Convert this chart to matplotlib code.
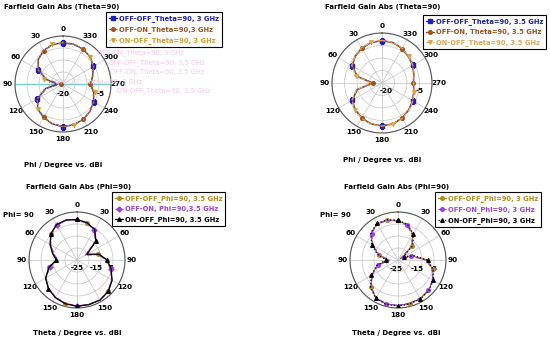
import numpy as np
from matplotlib import pyplot as plt

# angles (deg, counter-clockwise from top)
angles = [0, 15, 30, 45, 60, 75, 90, 105, 120, 135, 150, 165,
          180, 195, 210, 225, 240, 255, 270, 285, 300, 315, 330, 345]

# Farfield gain Theta=90, 3 GHz (dBi)
tl_off_off = [-2.8, -3.0, -3.8, -5.4, -8.0, -12.8, -17.6, -12.4, -7.6, -5.2, -3.8, -2.8,
              -2.2, -2.4, -3.0, -4.0, -5.2, -6.8, -8.4, -7.2, -5.4, -4.0, -3.2, -2.8]
tl_off_on = [-2.9, -3.1, -3.9, -5.5, -8.2, -13.2, -19.0, -12.8, -7.8, -5.3, -3.9, -2.9,
             -2.3, -2.5, -3.1, -4.1, -5.3, -6.9, -8.6, -7.3, -5.5, -4.1, -3.3, -2.9]
tl_on_off = [-2.6, -2.9, -3.7, -5.3, -7.8, -12.0, -15.5, -12.0, -7.5, -5.0, -3.6, -2.7,
             -2.2, -2.3, -2.9, -3.9, -5.0, -6.4, -7.8, -6.9, -5.3, -3.9, -3.0, -2.6]

# Farfield gain Theta=90, 3.5 GHz
tr_off_off = [-3.0, -3.2, -3.8, -4.8, -6.2, -9.6, -16.0, -9.6, -6.2, -4.8, -3.8, -3.0,
              -2.8, -3.0, -3.8, -4.8, -5.8, -6.8, -7.4, -6.8, -5.8, -5.0, -4.0, -3.2]
tr_off_on = [-3.1, -3.3, -3.9, -4.9, -6.3, -9.8, -16.5, -9.9, -6.3, -4.9, -3.9, -3.1,
             -2.9, -3.1, -3.9, -4.9, -5.9, -6.9, -7.5, -6.9, -5.9, -5.1, -4.1, -3.3]
tr_on_off = [-2.9, -3.1, -3.7, -4.7, -6.0, -9.3, -15.5, -9.4, -6.1, -4.7, -3.7, -2.9,
             -2.7, -2.9, -3.7, -4.7, -5.7, -6.7, -7.3, -6.7, -5.7, -4.9, -3.9, -3.1]

# Farfield gain Phi=90, 3.5 GHz
bl_off_off = [-4.0, -3.5, -3.8, -5.8, -9.0, -12.0, -14.5, -10.0, -6.2, -4.0, -2.5, -1.5,
              -1.0, -1.0, -1.0, -2.0, -4.0, -6.8, -9.5, -13.5, -19.5, -11.2, -6.8, -5.0]
bl_off_on = [-4.1, -3.6, -3.9, -5.9, -9.2, -12.5, -15.0, -10.2, -6.3, -4.1, -2.6, -1.6,
             -1.1, -1.1, -1.1, -2.1, -4.1, -6.9, -9.7, -13.8, -20.0, -11.5, -6.9, -5.1]
bl_on_off = [-3.9, -3.4, -3.7, -5.7, -8.8, -11.8, -14.2, -9.8, -6.1, -3.9, -2.4, -1.4,
             -0.9, -0.9, -0.9, -1.9, -3.9, -6.6, -9.3, -13.2, -19.0, -11.0, -6.6, -4.9]

# Farfield gain Phi=90, 3 GHz
br_off_off = [-4.5, -3.5, -3.2, -5.2, -9.5, -14.5, -19.5, -13.8, -9.2, -5.0, -2.0, -1.2,
              -1.2, -1.5, -1.8, -2.5, -4.0, -6.2, -10.0, -17.0, -22.5, -14.5, -9.5, -6.0]
br_off_on = [-4.7, -3.7, -3.4, -5.5, -9.9, -15.0, -20.5, -14.2, -9.5, -5.2, -2.2, -1.4,
             -1.4, -1.7, -2.0, -2.7, -4.2, -6.5, -10.4, -17.8, -23.5, -15.0, -9.9, -6.3]
br_on_off = [-4.3, -3.3, -3.0, -5.0, -9.2, -14.0, -18.8, -13.4, -9.0, -4.8, -1.9, -1.1,
             -1.1, -1.3, -1.6, -2.3, -3.8, -6.0, -9.6, -16.4, -21.5, -14.0, -9.2, -5.8]

phi_labels = ['0', '30', '60', '90', '120', '150', '180', '210', '240', '270', '300', '330']
theta_labels = ['0', '30', '60', '90', '120', '150', '180', '150', '120', '90', '60', '30']

W, H = 550, 341
FS = 5.0      # titles
LFS = 4.9     # legend
TFS = 5.2     # tick labels


def px(x, y):
    return x / W, 1 - y / H


def closed(vals):
    a = np.deg2rad(angles + [360])
    return a, vals + [vals[0]]


def polar_panel(fig, rect, rmin, rings, tick_labels, series, rlabels):
    ax = fig.add_axes(rect, projection='polar')
    ax.set_theta_zero_location('N')
    ax.set_theta_direction(1)
    for vals, color, ls, mk, every, lab in series:
        a, r = closed(vals)
        ax.plot(a, r, color=color, ls=ls, lw=0.9, marker=mk, ms=2.6,
                markevery=every, label=lab, zorder=3)
    ax.set_ylim(rmin, 0)
    ax.set_rgrids(rings, labels=[''] * len(rings))
    ax.set_thetagrids(range(0, 360, 30), labels=tick_labels, fontsize=TFS,
                      fontweight='bold')
    ax.tick_params(axis='x', pad=-5.5)
    ax.grid(color='#c4c4c4', lw=0.5)
    ax.spines['polar'].set_color('#555555')
    ax.spines['polar'].set_linewidth(0.8)
    for txt, r, dx, dy in rlabels:
        ax.annotate(txt, xy=(np.deg2rad(270), r), xytext=(dx, dy),
                    textcoords='offset points', ha='center', va='center',
                    fontsize=TFS, fontweight='bold', zorder=2)
    return ax


def add_legend(ax, x, y):
    leg = ax.legend(loc='upper left', bbox_to_anchor=px(x, y),
                    bbox_transform=ax.figure.transFigure, fancybox=False,
                    edgecolor='black', framealpha=1, borderpad=0.45,
                    labelspacing=0.6, handlelength=1.1, handletextpad=0.3,
                    borderaxespad=0, labelcolor='linecolor',
                    prop={'size': LFS, 'weight': 'bold'})
    leg.get_frame().set_linewidth(0.8)


fig = plt.figure(figsize=(5.5, 3.41), dpi=100)

blue = '#1c1cc8'
brown = '#a4501c'
gold = '#d4a030'
tan = '#e0a458'
dgold = '#b88a1c'
purple = '#9a40f0'

# ---- top left
ax1 = polar_panel(fig, [15 / W, 1 - 132 / H, 96 / W, 96 / H], -20, [-15, -10, -5, 0],
                  phi_labels,
                  [(tl_off_off, blue, '-', 's', 4, 'OFF-OFF_Theta=90, 3 GHz'),
                   (tl_off_on, brown, '--', 'o', (2, 4), 'OFF-ON_Theta=90,3 GHz'),
                   (tl_on_off, gold, ':', 'v', (1, 4), 'ON-OFF_Theta=90, 3 GHz')],
                  [('-20', -20, 0, -7), ('-5', -5, 1, -7)])
gl = ax1.xaxis.get_gridlines()
for i in (3, 9):
    gl[i].set_color('#6fd0d0')
    gl[i].set_linewidth(1.0)
add_legend(ax1, 106, 12)

# faint overlay texts left in the source picture
ghost = [('OFF-ON_Theta=90, 3 GHz', 97, 53), ('_OFF-OFF_Theta=90, 3.5 GHz', 105, 63),
         ('OFF-ON, Theta=90, 3.5 GHz', 110, 72), ('ON-OFF_Theta=90, 3 GHz', 55, 82),
         ('ON-OFF_Theta=90, 3.5 GHz', 117, 91)]
for txt, x, y in ghost:
    fig.text(*px(x, y), txt, color='#f9c8ee', fontsize=LFS, va='center', zorder=0)

fig.text(*px(62, 7), 'Farfield Gain Abs (Theta=90)', ha='center', va='center',
         fontsize=FS, fontweight='bold')
fig.text(*px(63, 165), 'Phi / Degree vs. dBi', ha='center', va='center',
         fontsize=FS, fontweight='bold')

# ---- top right
ax2 = polar_panel(fig, [332 / W, 1 - 133 / H, 100 / W, 100 / H], -20, [-15, -10, -5, 0],
                  phi_labels,
                  [(tr_off_off, blue, '-', 's', 4, 'OFF-OFF_Theta=90, 3.5 GHz'),
                   (tr_off_on, brown, '-', 'o', (2, 4), 'OFF-ON, Theta=90, 3.5 GHz'),
                   (tr_on_off, tan, '--', 'v', (1, 4), 'ON-OFF_Theta=90, 3.5 GHz')],
                  [('-20', -20, 3, -6), ('-5', -5, 0, -6)])
add_legend(ax2, 423, 15)
fig.text(*px(383, 7), 'Farfield Gain Abs (Theta=90)', ha='center', va='center',
         fontsize=FS, fontweight='bold')
fig.text(*px(382, 160), 'Phi / Degree vs. dBi', ha='center', va='center',
         fontsize=FS, fontweight='bold')

# ---- bottom left
ax3 = polar_panel(fig, [29 / W, 1 - 308 / H, 96 / W, 96 / H], -25, [-18.75, -12.5, -6.25, 0],
                  theta_labels,
                  [(bl_off_off, dgold, '-', 'o', (3, 4), 'OFF-OFF_Phi=90, 3.5 GHz'),
                   (bl_off_on, purple, '--', 'D', (2, 5), 'OFF-ON, Phi=90,3.5 GHz'),
                   (bl_on_off, 'black', '-', '^', 3, 'ON-OFF_Phi=90, 3.5 GHz')],
                  [('-25', -25, 0, -5.5), ('-15', -15, 0, -5.5), ('5', -7.2, 0, -5.5)])
add_legend(ax3, 112, 192)
fig.text(*px(79, 187), 'Farfield Gain Abs (Phi=90)', ha='center', va='center',
         fontsize=FS, fontweight='bold')
fig.text(*px(18, 215), 'Phi= 90', ha='center', va='center', fontsize=FS, fontweight='bold')
fig.text(*px(77, 333), 'Theta / Degree vs. dBi', ha='center', va='center',
         fontsize=FS, fontweight='bold')

# ---- bottom right
ax4 = polar_panel(fig, [350 / W, 1 - 308 / H, 96 / W, 96 / H], -25, [-18.75, -12.5, -6.25, 0],
                  theta_labels,
                  [(br_off_off, dgold, '-', 'o', (1, 4), 'OFF-OFF_Phi=90, 3 GHz'),
                   (br_off_on, purple, '--', 'o', (3, 4), 'OFF-ON_Phi=90, 3 GHz'),
                   (br_on_off, 'black', ':', '^', 2, 'ON-OFF_Phi=90, 3 GHz')],
                  [('-25', -25, -1, -6.5), ('-15', -15, 0, -6.5), ('5', -6.3, 0, -6.5)])
add_legend(ax4, 435, 192)
fig.text(*px(397, 187), 'Farfield Gain Abs (Phi=90)', ha='center', va='center',
         fontsize=FS, fontweight='bold')
fig.text(*px(335, 215), 'Phi= 90', ha='center', va='center', fontsize=FS, fontweight='bold')
fig.text(*px(396, 333), 'Theta / Degree vs. dBi', ha='center', va='center',
         fontsize=FS, fontweight='bold')

fig.savefig('out.png', dpi=100)
